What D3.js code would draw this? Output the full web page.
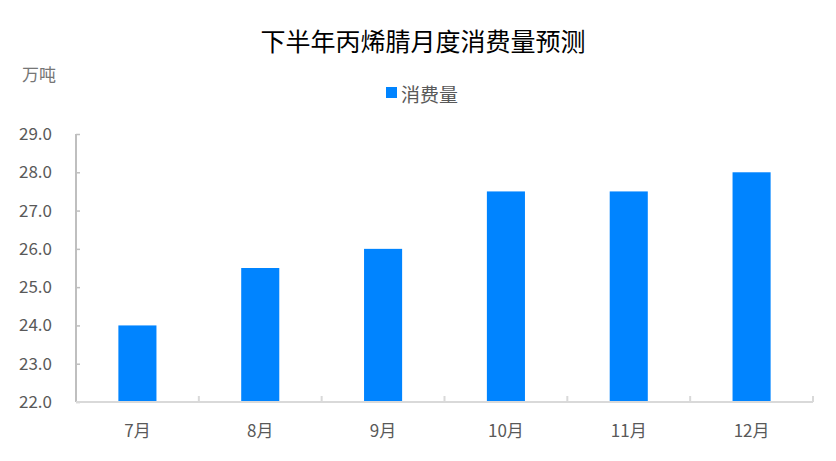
<!DOCTYPE html>
<html>
<head>
<meta charset="utf-8">
<script src="https://cdn.jsdelivr.net/npm/d3@7"></script>
<style>
  body { margin: 0; background: #fff; }
  text { font-family: "Noto Sans CJK SC", "Noto Sans", sans-serif; }
</style>
</head>
<body>
<script>
const months = ['7月', '8月', '9月', '10月', '11月', '12月'];
const consumption = [24.0, 25.5, 26.0, 27.5, 27.5, 28.0];
const yTicks = [22, 23, 24, 25, 26, 27, 28, 29];
const seriesName = '消费量';
const title = '下半年丙烯腈月度消费量预测';
const unit = '万吨';

function draw() {
    const width = 836, height = 461;
    const left = 76, right = 813, top = 134, bottom = 402;

    const svg = d3.select('body').append('svg')
        .attr('width', width)
        .attr('height', height);

    const X = d3.scaleBand()
        .domain(months)
        .range([left, right])
        .paddingInner(0.69)
        .paddingOuter(0.345);

    const Y = d3.scaleLinear()
        .domain([22, 29])
        .range([bottom, top]);

    // title, unit, legend
    svg.append('text')
        .attr('x', 423).attr('y', 40)
        .attr('text-anchor', 'middle')
        .attr('dominant-baseline', 'central')
        .attr('font-size', 25)
        .attr('fill', '#000')
        .text(title);

    svg.append('text')
        .attr('x', 22).attr('y', 73)
        .attr('dominant-baseline', 'central')
        .attr('font-size', 17)
        .attr('fill', '#767676')
        .text(unit);

    svg.append('rect')
        .attr('x', 386).attr('y', 87)
        .attr('width', 11).attr('height', 11)
        .attr('fill', '#0084ff');
    svg.append('text')
        .attr('x', 401).attr('y', 93)
        .attr('dominant-baseline', 'central')
        .attr('font-size', 19)
        .attr('fill', '#595959')
        .text(seriesName);

    // bars
    svg.selectAll('rect.bar')
        .data(consumption)
        .join('rect')
        .attr('class', 'bar')
        .attr('x', (d, i) => X(months[i]))
        .attr('width', X.bandwidth())
        .attr('y', d => Y(d))
        .attr('height', d => Y(22) - Y(d))
        .attr('fill', '#0084ff');

    // y axis
    const yAxis = d3.axisRight(Y)
        .tickValues(yTicks)
        .tickSize(4)
        .tickFormat(d3.format('.1f'));
    const gy = svg.append('g')
        .attr('transform', `translate(${left},0)`)
        .call(yAxis);
    gy.select('.domain').attr('stroke', '#bfbfbf').attr('stroke-width', 2)
        .attr('d', `M0,${top}V${bottom}`);
    gy.selectAll('.tick line').attr('stroke', '#bfbfbf').attr('stroke-width', 1.5);
    gy.selectAll('.tick text')
        .attr('x', -24)
        .attr('text-anchor', 'end')
        .attr('font-size', 17)
        .attr('fill', '#595959');

    // x axis
    const xAxis = d3.axisBottom(X).tickSize(0).tickPadding(23);
    const gx = svg.append('g')
        .attr('transform', `translate(0,${bottom})`)
        .call(xAxis);
    gx.select('.domain').attr('stroke', '#d9d9d9').attr('stroke-width', 2)
        .attr('d', `M${left},0H${right}`);
    gx.selectAll('.tick text')
        .attr('font-size', 17)
        .attr('fill', '#595959');

    // category boundary ticks
    gx.selectAll('line.sep')
        .data(d3.range(1, months.length + 1))
        .join('line')
        .attr('class', 'sep')
        .attr('x1', i => left + i * (right - left) / months.length)
        .attr('x2', i => left + i * (right - left) / months.length)
        .attr('y1', 0).attr('y2', -6)
        .attr('stroke', '#d9d9d9')
        .attr('stroke-width', 2);
}

draw();
</script>
</body>
</html>
